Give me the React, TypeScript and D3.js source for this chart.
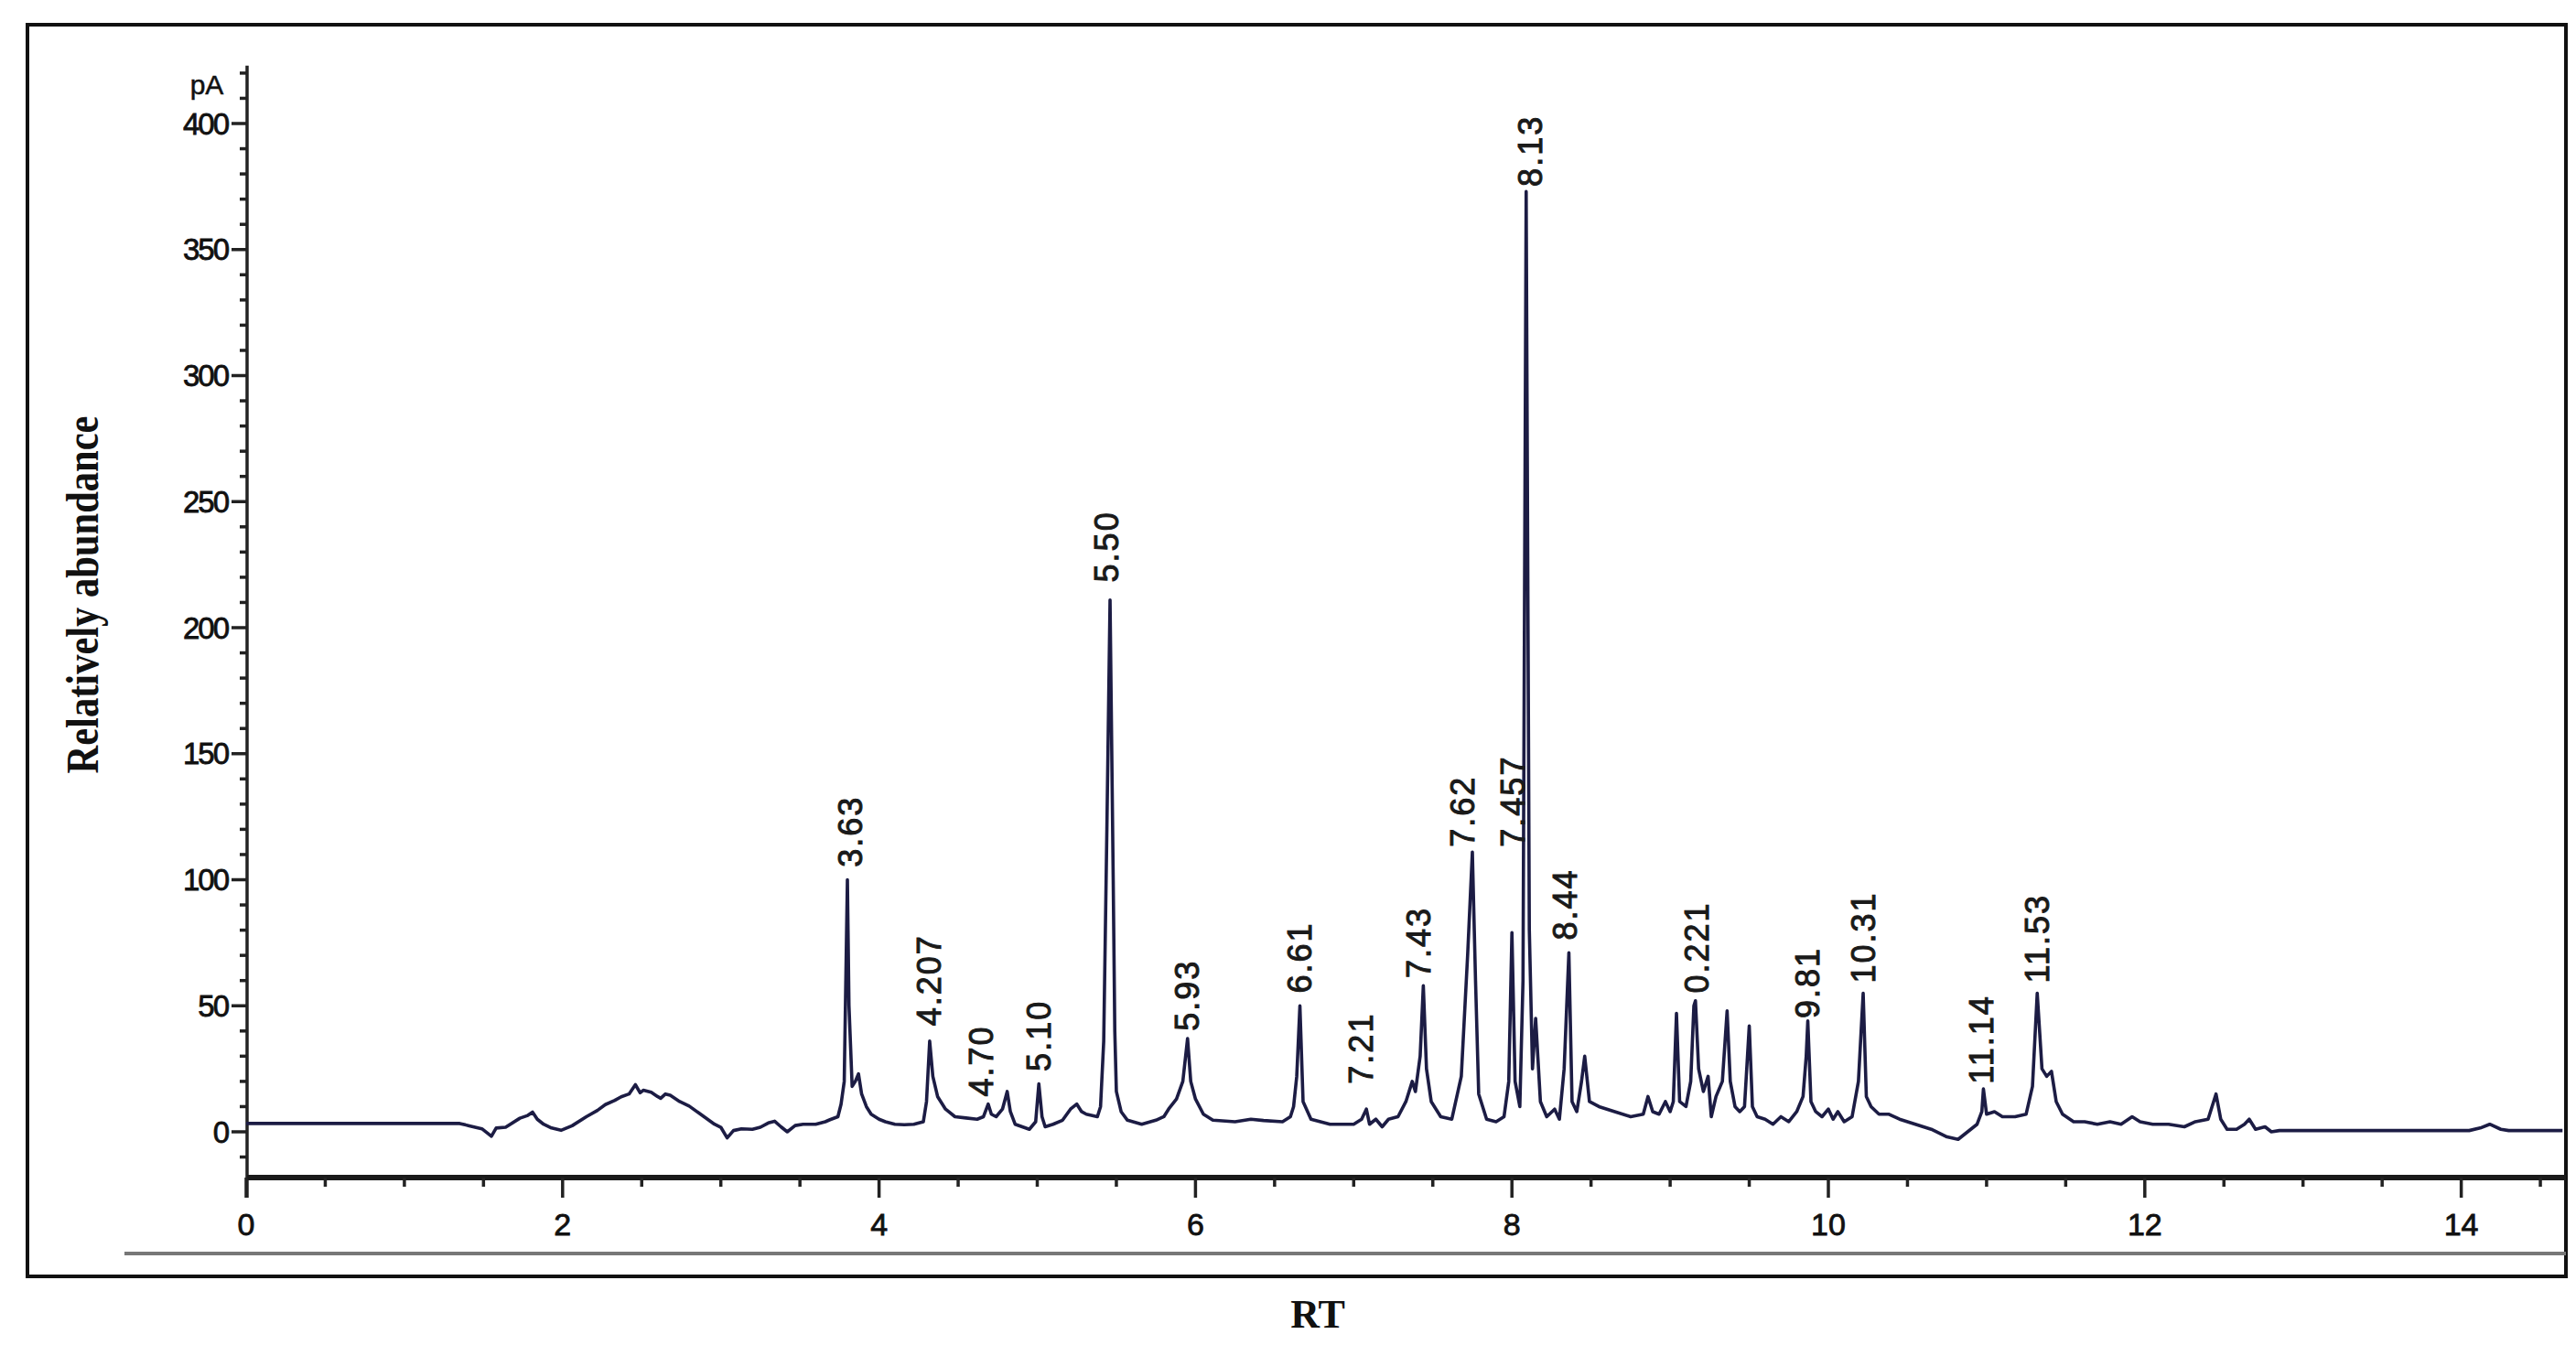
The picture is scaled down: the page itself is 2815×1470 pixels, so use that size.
import React from "react";
import * as d3 from "d3";

// ---- Data ----
const rtTime = [
  0, 1.35, 1.41, 1.49, 1.55, 1.58, 1.64, 1.73, 1.78, 1.81, 1.84, 1.88, 1.93, 1.99, 2.06, 2.15, 2.22, 2.27, 2.33, 2.37,
  2.42, 2.46, 2.49, 2.51, 2.56, 2.6, 2.62, 2.65, 2.68, 2.74, 2.8, 2.86, 2.92, 2.96, 3.0, 3.04, 3.08, 3.13, 3.2, 3.25,
  3.3, 3.34, 3.38, 3.42, 3.47, 3.52, 3.6, 3.66, 3.69, 3.74, 3.76, 3.78, 3.79, 3.8, 3.81, 3.83, 3.85, 3.87, 3.89, 3.92,
  3.95, 4.0, 4.04, 4.1, 4.16, 4.22, 4.28, 4.3, 4.32, 4.34, 4.37, 4.42, 4.48, 4.55, 4.62, 4.66, 4.69, 4.71, 4.74, 4.78,
  4.81, 4.83, 4.86, 4.95, 4.99, 5.01, 5.03, 5.05, 5.1, 5.16, 5.21, 5.25, 5.28, 5.31, 5.38, 5.4, 5.42, 5.44, 5.46, 5.48,
  5.49, 5.5, 5.53, 5.57, 5.66, 5.75, 5.8, 5.83, 5.88, 5.92, 5.95, 5.97, 6.0, 6.05, 6.11, 6.25, 6.35, 6.43, 6.55, 6.6,
  6.62, 6.64, 6.66, 6.68, 6.73, 6.85, 7.0, 7.05, 7.08, 7.1, 7.14, 7.18, 7.22, 7.28, 7.33, 7.37, 7.39, 7.42, 7.44, 7.46,
  7.49, 7.55, 7.62, 7.68, 7.72, 7.75, 7.77, 7.79, 7.84, 7.9, 7.95, 7.98, 8.0, 8.02, 8.05, 8.07, 8.09, 8.11, 8.13, 8.15,
  8.18, 8.22, 8.27, 8.3, 8.33, 8.36, 8.38, 8.41, 8.44, 8.46, 8.49, 8.55, 8.65, 8.75, 8.83, 8.86, 8.89, 8.93, 8.97, 9.0,
  9.02, 9.04, 9.06, 9.1, 9.13, 9.15, 9.16, 9.18, 9.21, 9.24, 9.26, 9.29, 9.33, 9.36, 9.38, 9.41, 9.44, 9.47, 9.5, 9.52,
  9.55, 9.6, 9.65, 9.7, 9.75, 9.8, 9.84, 9.86, 9.87, 9.89, 9.92, 9.96, 10.0, 10.03, 10.06, 10.1, 10.15, 10.19, 10.22, 10.24,
  10.27, 10.32, 10.38, 10.45, 10.55, 10.65, 10.75, 10.82, 10.88, 10.94, 10.97, 10.98, 11.0, 11.05, 11.1, 11.18, 11.25, 11.29, 11.32, 11.35,
  11.38, 11.41, 11.44, 11.48, 11.55, 11.62, 11.7, 11.78, 11.85, 11.92, 11.97, 12.05, 12.15, 12.25, 12.32, 12.4, 12.45, 12.48, 12.52, 12.58,
  12.63, 12.66, 12.7, 12.76, 12.8, 12.85, 13.5, 14.05, 14.12, 14.18, 14.25, 14.3, 14.64,
];

const abundance = [
  3.3, 3.3, 2.4, 1.2, -1.8, 1.5, 1.8, 5.4, 6.5, 7.8, 5, 3, 1.5, 0.6, 2.4, 6, 8.5, 10.8, 12.5, 13.9,
  15, 18.7, 15.5, 16.5, 15.7, 14, 13.3, 15, 14.5, 12, 10.2, 7.5, 4.8, 3, 1.8, -2.4, 0.5, 1.2, 1, 1.8,
  3.5, 4.2, 2, 0, 2.5, 3, 3, 4, 4.8, 6, 11, 20, 60, 100, 50, 18, 20, 23, 15, 10,
  7, 5, 4, 3, 2.8, 3, 4, 12, 36, 22, 14, 9, 6, 5.5, 5, 6, 11, 7, 6, 9,
  16, 8, 3, 1, 4, 19, 6, 2, 3, 4.6, 9, 11, 8, 7, 6, 10, 36, 120, 211, 100,
  40, 16, 8, 4.6, 3, 4.6, 6, 9, 13, 20, 37, 20, 13, 7, 4.6, 4, 5, 4.5, 4, 6,
  10, 22, 50, 12, 5, 3, 3, 5, 9, 3, 5, 2, 5, 6, 12, 20, 16, 30, 58, 25,
  12, 6, 5, 22, 70, 111, 60, 15, 5, 4, 6, 20, 79, 20, 10, 60, 373, 80, 25, 45,
  12, 6, 9, 5, 25, 71, 12, 8, 20, 30, 12, 10, 8, 6, 7, 14, 8, 7, 12, 8,
  12, 47, 12, 10, 20, 50, 52, 25, 16, 22, 6, 14, 20, 48, 20, 10, 8, 10, 42, 10,
  6, 5, 3, 6, 4, 8, 14, 30, 44, 12, 8, 6, 9, 5, 8, 4, 6, 20, 55, 14,
  10, 7, 7, 5, 3, 1, -2, -3, 0, 3, 8, 17, 7, 8, 6, 6, 7, 18, 55, 25,
  22, 24, 12, 7, 4, 4, 3, 4, 3, 6, 4, 3, 3, 2, 4, 5, 15, 5, 1, 1,
  3, 5, 1, 2, 0, 0.5, 0.5, 0.5, 1.5, 3, 1, 0.5, 0.5,
];

const peakLabels = ["3.63", "4.207", "4.70", "5.10", "5.50", "5.93", "6.61", "7.21", "7.43", "7.62", "7.457", "8.13", "8.44", "0.221", "9.81", "10.31", "11.14", "11.53"];
const peakLabelRT = [3.82, 4.32, 4.65, 5.01, 5.44, 5.95, 6.66, 7.05, 7.41, 7.69, 8.01, 8.12, 8.34, 9.17, 9.87, 10.22, 10.97, 11.32];
const peakLabelLevel = [105, 42, 14, 24, 218, 40, 55, 19, 61, 113, 113, 375, 76, 55, 45, 59, 19, 59];

const xTicks = [0, 2, 4, 6, 8, 10, 12, 14];
const yTicks = [0, 50, 100, 150, 200, 250, 300, 350, 400];

const xTitle = "RT";
const yTitle = "Relatively abundance";
const yUnit = "pA";

export default function App() {
  const W = 2815;
  const H = 1470;
  const x = d3.scaleLinear().domain([0, 14]).range([269, 2689.6]);
  const y = d3.scaleLinear().domain([0, 400]).range([1237, 135]);

  const axisY = 1287;
  const axisRight = 2804;
  const xMax = x.invert(axisRight);

  const pts = rtTime.map((t, i) => [t, abundance[i]] as [number, number]);
  const line = d3
    .line<[number, number]>()
    .x((d) => x(d[0]))
    .y((d) => y(d[1]));

  const minorX = d3.range(0, xMax, 0.5).filter((v) => Math.abs(v - Math.round(v / 2) * 2) > 1e-6);
  const minorY = d3.range(-10, 421, 10).filter((v) => v % 50 !== 0);
  const yTop = y(423);

  const tickFont = "'Liberation Sans', Arial, sans-serif";

  return (
    <svg
      width={W}
      height={H}
      viewBox={`0 0 ${W} ${H}`}
      style={{ position: "absolute", left: 0, top: 0, background: "#fff" }}
    >
      <rect x={0} y={0} width={W} height={H} fill="#fff" />
      {/* outer frame */}
      <rect x={30} y={27} width={2774} height={1368} fill="none" stroke="#111" strokeWidth={4} />
      {/* bottom grey rule */}
      <line x1={136} x2={2804} y1={1370} y2={1370} stroke="#777" strokeWidth={4} />

      {/* y axis */}
      <line x1={270} x2={270} y1={yTop} y2={axisY + 22} stroke="#222" strokeWidth={3.5} />
      {yTicks.map((v) => (
        <g key={"yt" + v}>
          <line x1={253} x2={270} y1={y(v)} y2={y(v)} stroke="#222" strokeWidth={3.5} />
          <text
            x={249}
            y={y(v)}
            textAnchor="end"
            dominantBaseline="central"
            fontFamily={tickFont}
            fontSize={33}
            letterSpacing={-2}
            fill="#111"
            stroke="#111"
            strokeWidth={0.8}
          >
            {v}
          </text>
        </g>
      ))}
      {minorY.map((v) => (
        <line key={"ym" + v} x1={262} x2={270} y1={y(v)} y2={y(v)} stroke="#222" strokeWidth={3.5} />
      ))}
      <text x={226} y={92} textAnchor="middle" dominantBaseline="central" fontFamily={tickFont} fontSize={30} fill="#111" stroke="#111" strokeWidth={0.5}>
        {yUnit}
      </text>

      {/* x axis */}
      <line x1={270} x2={axisRight} y1={axisY} y2={axisY} stroke="#1a1a1a" strokeWidth={6} />
      {xTicks.map((v) => (
        <g key={"xt" + v}>
          <line x1={x(v)} x2={x(v)} y1={axisY} y2={axisY + 22} stroke="#222" strokeWidth={3.5} />
          <text
            x={x(v)}
            y={1338}
            textAnchor="middle"
            dominantBaseline="central"
            fontFamily={tickFont}
            fontSize={34}
            fill="#111"
            stroke="#111"
            strokeWidth={0.8}
          >
            {v}
          </text>
        </g>
      ))}
      {minorX.map((v) => (
        <line key={"xm" + v} x1={x(v)} x2={x(v)} y1={axisY} y2={axisY + 10} stroke="#222" strokeWidth={3.5} />
      ))}

      {/* chromatogram trace */}
      <path d={line(pts) || ""} fill="none" stroke="#1c1c44" strokeWidth={3.6} strokeLinejoin="round" />

      {/* peak labels */}
      {peakLabels.map((lab, i) => {
        const px = x(peakLabelRT[i]);
        const py = y(peakLabelLevel[i]);
        return (
          <text
            key={"pl" + i}
            transform={`translate(${px},${py}) rotate(-90)`}
            x={0}
            y={0}
            textAnchor="start"
            dominantBaseline="central"
            fontFamily={tickFont}
            fontSize={36}
            letterSpacing={2}
            fill="#1a1a1a"
            stroke="#1a1a1a"
            strokeWidth={1}
          >
            {lab}
          </text>
        );
      })}

      {/* axis titles */}
      <text
        x={1440}
        y={1436}
        textAnchor="middle"
        dominantBaseline="central"
        fontFamily="'Liberation Serif', 'Times New Roman', serif"
        fontWeight="bold"
        fontSize={44}
        fill="#111"
      >
        {xTitle}
      </text>
      <text
        transform={`translate(90,650) rotate(-90)`}
        textAnchor="middle"
        dominantBaseline="central"
        fontFamily="'Liberation Serif', 'Times New Roman', serif"
        fontWeight="bold"
        fontSize={50}
        textLength={391}
        lengthAdjust="spacingAndGlyphs"
        fill="#111"
      >
        {yTitle}
      </text>
    </svg>
  );
}
